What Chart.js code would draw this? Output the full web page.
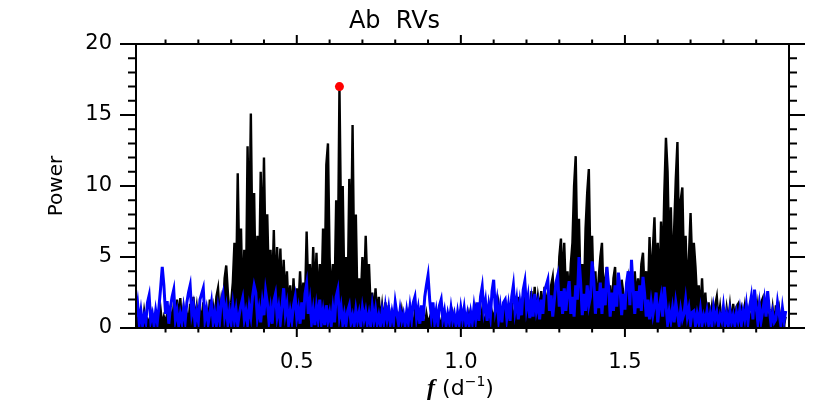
<!DOCTYPE html>
<html>
<head>
<meta charset="utf-8">
<script src="https://cdn.jsdelivr.net/npm/chart.js@4.4.1/dist/chart.umd.min.js"></script>
<style>
  html, body { margin: 0; padding: 0; background: #fff; }
</style>
</head>
<body>
<canvas id="chart" width="830" height="415"></canvas>
<script>
// frequency grid of the periodogram (d^-1)
const freqStart = 0.01;
const freqStep = 0.005;

// black: periodogram of the Ab RVs, one row = 0.1 d^-1
const blackPower = [
  0.3,1.0,0.2,0.8,0.1,1.2,0.4,0.6,0.2,1.1,0.3,0.7,0.1,0.9,0.5,1.3,0.2,0.8,0.4,1.0,   // 0.01
  0.3,1.2,0.5,1.6,0.4,2.0,0.6,2.1,0.3,1.4,0.2,1.0,0.5,1.7,0.3,2.2,0.6,1.5,0.2,1.2,   // 0.11
  0.6,1.8,0.5,1.3,0.4,2.0,0.7,1.5,0.5,2.2,2.8,0.8,2.0,1.2,3.5,4.4,2.5,1.0,1.8,3.2,   // 0.21
  6.0,2.5,10.9,4.0,7.0,1.5,5.5,2.0,12.8,6.0,15.1,5.0,9.5,2.2,6.5,3.0,11.0,5.5,12.0,4.5, // 0.31
  8.0,3.0,5.5,2.5,6.9,2.0,5.7,2.5,5.6,1.8,4.8,2.0,4.0,1.2,3.0,0.8,3.5,1.0,2.8,1.5,   // 0.41
  4.0,1.5,3.2,1.8,6.8,2.5,4.5,2.0,5.7,2.2,5.3,1.5,4.5,1.8,7.0,3.0,11.5,13.0,5.0,2.0, // 0.51
  4.5,2.0,9.0,4.0,17.0,7.0,10.0,2.5,5.0,2.0,10.5,5.0,14.3,4.0,8.0,1.5,3.5,2.0,5.0,2.5, // 0.61
  6.5,3.0,4.5,1.5,2.5,1.0,2.8,0.8,2.2,0.5,1.6,0.4,1.8,0.3,1.6,0.5,1.0,0.2,0.9,0.3,   // 0.71
  0.8,0.2,1.2,0.3,0.6,0.1,1.0,0.4,0.7,0.2,1.1,0.3,0.5,0.9,0.2,0.6,0.1,1.0,0.3,0.7,   // 0.81
  0.2,0.8,0.3,1.1,0.2,0.6,0.1,0.9,0.4,0.5,0.1,0.8,0.3,1.0,0.2,0.6,0.4,0.9,0.1,0.5,   // 0.91
  0.3,0.8,0.2,1.0,0.4,0.7,0.2,1.2,0.3,0.9,0.5,1.3,0.2,0.8,0.4,1.5,0.3,1.1,0.6,1.4,   // 1.01
  0.4,1.6,0.5,1.2,0.8,2.0,0.3,1.4,0.6,1.8,0.4,1.3,0.7,2.2,0.5,1.6,0.8,2.4,0.6,1.9,   // 1.11
  1.0,2.6,1.2,2.9,0.8,2.2,1.3,2.6,1.0,2.9,1.5,2.4,1.2,3.0,3.6,1.5,3.2,2.0,5.0,6.3,   // 1.21
  3.0,6.0,2.5,4.0,2.0,4.5,6.0,10.0,12.1,5.0,7.7,2.5,4.5,2.0,7.0,9.5,11.2,4.0,6.5,2.0, // 1.31
  4.0,1.5,3.5,5.0,6.0,2.0,3.5,4.3,1.5,3.0,1.2,3.5,4.3,1.5,3.0,1.0,3.4,2.5,1.0,2.8,   // 1.41
  3.5,1.8,2.8,1.5,4.0,2.0,3.5,1.8,4.5,5.3,2.5,4.0,2.0,6.4,3.0,5.5,7.8,3.5,6.0,2.5,   // 1.51
  7.5,4.0,9.5,13.4,11.0,5.0,8.5,3.5,7.0,10.5,13.1,6.0,9.0,9.9,4.0,6.5,2.5,5.0,8.1,4.5, // 1.61
  6.0,4.3,2.0,3.0,1.0,3.5,0.8,2.5,0.6,1.8,0.5,1.5,0.4,1.6,2.2,0.6,1.5,0.4,1.2,0.3,   // 1.71
  1.4,0.5,1.6,0.4,1.7,0.6,1.5,1.7,0.4,1.3,0.6,1.5,0.3,1.2,0.5,1.0,0.3,1.2,0.5,1.6,   // 1.81
  0.4,1.8,2.1,0.6,1.5,0.3,1.0,0.4,1.4,0.2,1.6,0.5,1.3,0.2,0.9,0.3,0.8                // 1.91
];

// blue: same periodogram after prewhitening
const bluePower = [
  0.8,1.7,0.3,1.2,0.2,0.9,0.4,1.8,2.3,0.5,1.0,0.2,1.2,0.4,1.5,2.8,4.3,3.0,1.0,1.9,   // 0.01
  0.3,1.5,2.2,2.7,0.6,1.2,0.2,1.0,0.4,1.4,0.5,1.8,2.5,3.0,1.0,1.6,0.3,1.2,0.5,2.0,   // 0.11
  2.4,2.8,0.6,1.3,0.3,1.0,1.8,0.4,1.1,0.2,1.4,0.5,1.9,2.4,0.8,1.5,0.3,1.2,0.4,1.6,   // 0.21
  0.5,1.3,0.2,1.0,1.6,2.1,0.6,1.2,0.3,1.5,0.8,2.2,3.0,2.5,0.7,1.4,0.4,1.8,0.9,2.6,   // 0.31
  1.8,0.5,1.4,0.3,1.9,2.4,0.8,1.5,0.4,1.6,2.8,1.0,1.7,0.3,1.2,0.5,1.6,2.2,0.7,1.4,   // 0.41
  0.3,1.8,0.6,2.4,3.1,1.0,1.9,0.4,1.3,0.2,1.5,0.6,2.0,0.4,1.2,0.2,1.6,0.5,1.1,0.2,   // 0.51
  1.4,0.4,2.2,2.7,0.8,1.5,0.3,1.0,0.2,1.2,1.6,0.4,0.9,0.2,1.3,0.5,1.1,0.2,1.4,0.6,   // 0.61
  1.2,0.3,1.0,0.2,1.5,0.5,1.3,0.3,0.9,0.2,1.2,0.4,1.5,0.6,1.4,0.3,1.1,0.4,1.8,1.0,   // 0.71
  0.3,1.3,0.5,1.0,0.2,1.2,0.4,1.5,0.6,1.8,2.2,0.7,1.4,0.3,1.6,0.5,2.2,3.0,3.7,2.0,   // 0.81
  0.8,1.8,0.4,1.2,0.3,1.6,2.0,0.6,1.2,0.2,1.0,0.4,1.4,0.5,1.0,0.2,1.1,0.3,1.4,0.6,   // 0.91
  1.4,0.3,1.0,0.2,1.1,0.4,1.5,0.6,1.8,0.5,2.2,2.9,1.2,1.9,0.5,1.6,0.8,2.6,3.4,1.3,   // 1.01
  2.0,0.6,1.5,0.4,1.8,2.0,0.7,1.6,0.5,2.2,3.0,1.2,2.0,0.6,1.8,0.9,2.7,3.3,1.4,2.2,   // 1.11
  0.7,1.9,0.8,2.4,1.2,1.8,0.6,2.0,1.0,2.6,3.0,3.4,1.2,2.3,0.8,2.0,3.2,3.7,1.5,2.6,   // 1.21
  1.0,2.8,1.2,2.5,3.3,1.0,2.2,0.8,3.0,2.0,5.0,3.2,0.9,2.4,1.2,3.0,1.6,2.2,4.7,3.4,   // 1.31
  1.0,2.6,1.4,3.2,1.0,2.8,1.6,4.3,3.0,0.8,2.5,1.2,3.0,1.5,3.9,2.8,0.9,2.4,1.3,3.2,   // 1.41
  4.0,1.6,4.8,2.8,1.0,2.6,1.4,3.0,1.2,3.6,2.4,0.8,2.0,0.6,1.8,0.9,1.6,2.5,0.4,1.5,   // 1.51
  2.2,0.8,2.9,1.6,0.3,1.2,0.5,1.4,0.4,1.8,1.0,0.2,1.3,0.6,1.0,2.0,0.8,1.4,0.3,1.1,   // 1.61
  1.2,0.2,1.0,0.4,1.3,0.2,0.9,0.5,1.2,0.3,1.0,0.2,1.4,0.6,1.1,0.2,0.9,0.5,1.5,0.3,   // 1.71
  1.0,0.2,1.2,0.4,0.9,0.2,1.1,0.5,1.3,0.3,1.2,0.6,1.6,0.4,1.5,2.2,0.6,2.7,1.5,0.4,   // 1.81
  1.6,0.5,1.2,2.0,0.8,2.6,1.3,0.3,1.1,0.4,0.6,1.8,1.0,0.2,1.4,0.5,1.2                // 1.91
];

const xTickLabels = [0.5, 1.0, 1.5];
const yTickLabels = [0, 5, 10, 15, 20];

const FONT = 'DejaVu Sans';

const freq = blackPower.map((_, i) => +(freqStart + i * freqStep).toFixed(3));
const toXY = arr => arr.map((p, i) => ({ x: freq[i], y: p }));

// highest peak of the black periodogram gets the red dot
let iPeak = 0;
blackPower.forEach((p, i) => { if (p > blackPower[iPeak]) iPeak = i; });

// IDL style box: ticks pointing outwards on all four sides, plus the x title
const idlAxes = {
  id: 'idlAxes',
  afterDatasetsDraw(chart) {
    const { ctx, chartArea: a, scales: { x, y } } = chart;
    ctx.save();
    ctx.strokeStyle = '#000';
    ctx.lineWidth = 2;
    ctx.strokeRect(a.left, a.top, a.right - a.left, a.bottom - a.top);
    ctx.beginPath();
    for (let v = 0; v <= 20; v++) {
      const py = y.getPixelForValue(v);
      const len = v % 5 === 0 ? 16 : 8;
      ctx.moveTo(a.left - len, py); ctx.lineTo(a.left, py);
      ctx.moveTo(a.right, py); ctx.lineTo(a.right + len, py);
    }
    for (let k = 1; k <= 19; k++) {
      const px = x.getPixelForValue(k / 10);
      const len = k % 5 === 0 ? 9 : 4.5;
      ctx.moveTo(px, a.bottom); ctx.lineTo(px, a.bottom + len);
      ctx.moveTo(px, a.top); ctx.lineTo(px, a.top - len);
    }
    ctx.stroke();

    // x axis title: f (d^-1)
    const fFont = 'bold italic 24px "Liberation Serif"';
    const nFont = '22px "' + FONT + '"';
    const sFont = '14px "' + FONT + '"';
    ctx.font = fFont; const wf = ctx.measureText('f').width;
    ctx.font = nFont; const wa = ctx.measureText(' (d').width; const wc = ctx.measureText(')').width;
    ctx.font = sFont; const ws = ctx.measureText('\u22121').width;
    let tx = (a.left + a.right) / 2 - 2 - (wf + wa + ws + wc) / 2;
    const base = 395;
    ctx.fillStyle = '#000';
    ctx.textBaseline = 'alphabetic';
    ctx.textAlign = 'left';
    ctx.font = fFont; ctx.fillText('f', tx, base); tx += wf;
    ctx.font = nFont; ctx.fillText(' (d', tx, base); tx += wa;
    ctx.font = sFont; ctx.fillText('\u22121', tx, base - 9); tx += ws;
    ctx.font = nFont; ctx.fillText(')', tx, base);
    ctx.restore();
  }
};

new Chart(document.getElementById('chart'), {
  type: 'line',
  data: {
    datasets: [
      {
        label: 'peak',
        data: [{ x: freq[iPeak], y: blackPower[iPeak] }],
        showLine: false,
        pointRadius: 4.5,
        pointBackgroundColor: '#ff0000',
        pointBorderWidth: 0,
        order: 0
      },
      {
        label: 'prewhitened',
        data: toXY(bluePower),
        borderColor: '#0000ff',
        borderWidth: 3,
        pointRadius: 0,
        tension: 0,
        order: 1
      },
      {
        label: 'Ab RVs',
        data: toXY(blackPower),
        borderColor: '#000000',
        backgroundColor: '#000000',
        fill: 'origin',
        borderWidth: 2.4,
        pointRadius: 0,
        tension: 0,
        order: 2
      }
    ]
  },
  options: {
    responsive: false,
    devicePixelRatio: 1,
    animation: false,
    layout: { padding: { left: 0, right: 41, top: 0, bottom: 0 } },
    plugins: {
      legend: { display: false },
      tooltip: { enabled: false },
      filler: { drawTime: 'beforeDatasetDraw' },
      title: {
        display: true,
        text: 'Ab  RVs',
        color: '#000',
        font: { family: FONT, size: 24, weight: 'normal', lineHeight: 1 },
        padding: { top: 10, bottom: 10 }
      }
    },
    scales: {
      x: {
        type: 'linear',
        min: 0.01,
        max: 2.0,
        grid: { display: false, drawTicks: false },
        border: { display: false },
        afterBuildTicks: s => { s.ticks = xTickLabels.map(v => ({ value: v })); },
        afterFit: s => { s.height = 87; },
        ticks: {
          color: '#000',
          font: { family: FONT, size: 21 },
          padding: 22,
          maxRotation: 0,
          autoSkip: false,
          callback: v => Number(v).toFixed(1)
        }
      },
      y: {
        min: 0,
        max: 20,
        grid: { display: false, drawTicks: false },
        border: { display: false },
        afterBuildTicks: s => { s.ticks = yTickLabels.map(v => ({ value: v })); },
        afterFit: s => { s.width = 136; },
        ticks: {
          color: '#000',
          font: { family: FONT, size: 21 },
          padding: 24,
          callback: v => String(v)
        },
        title: {
          display: true,
          text: 'Power',
          color: '#000',
          font: { family: FONT, size: 20 },
          padding: { top: 45, bottom: 0 }
        }
      }
    }
  },
  plugins: [idlAxes]
});
</script>
</body>
</html>
